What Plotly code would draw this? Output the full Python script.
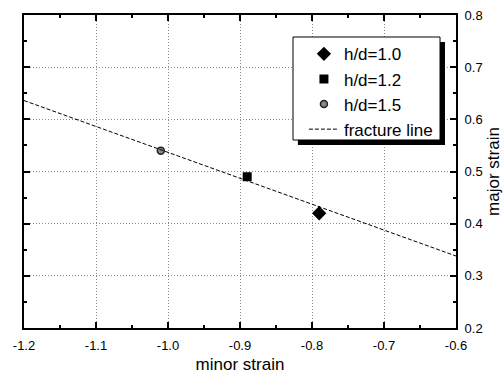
import plotly.graph_objects as go

# data
hd10_x = [-0.79]
hd10_y = [0.42]
hd12_x = [-0.89]
hd12_y = [0.49]
hd15_x = [-1.01]
hd15_y = [0.54]
fracture_x = [-1.2, -0.6]
fracture_y = [0.636, 0.338]

x_ticks = [-1.2, -1.1, -1.0, -0.9, -0.8, -0.7, -0.6]
x_ticklabels = ["-1.2", "-1.1", "-1.0", "-0.9", "-0.8", "-0.7", "-0.6"]
y_ticks = [0.2, 0.3, 0.4, 0.5, 0.6, 0.7, 0.8]
y_ticklabels = ["0.2", "0.3", "0.4", "0.5", "0.6", "0.7", "0.8"]

FONT = "Liberation Sans, Arial, sans-serif"

fig = go.Figure()
fig.add_trace(go.Scatter(x=hd10_x, y=hd10_y, mode="markers", name="h/d=1.0",
                         marker=dict(symbol="diamond", size=11, color="black")))
fig.add_trace(go.Scatter(x=hd12_x, y=hd12_y, mode="markers", name="h/d=1.2",
                         marker=dict(symbol="square", size=9, color="black")))
fig.add_trace(go.Scatter(x=hd15_x, y=hd15_y, mode="markers", name="h/d=1.5",
                         marker=dict(symbol="circle", size=7, color="#888888",
                                     line=dict(color="#222222", width=1.5))))
fig.add_trace(go.Scatter(x=fracture_x, y=fracture_y, mode="lines", name="fracture line",
                         line=dict(color="black", width=1, dash="4px,2px")))

axis_common = dict(
    showline=True, linecolor="black", linewidth=2, mirror="allticks",
    ticks="inside", ticklen=6, tickwidth=1.5, tickcolor="black",
    showgrid=True, gridcolor="#8a8a8a", griddash="1px,2px", gridwidth=1,
    zeroline=False, tickfont=dict(family=FONT, size=13, color="black"),
    title_font=dict(family=FONT, size=17, color="black"),
    ticklabelstandoff=4, automargin=False,
)

fig.update_xaxes(range=[-1.2, -0.6], tickmode="array", tickvals=x_ticks, ticktext=x_ticklabels,
                 minor=dict(dtick=0.05, tick0=-1.2, ticks="inside", ticklen=3, tickcolor="black", showgrid=False),
                 title_text="minor strain", title_standoff=10, **axis_common)
fig.update_yaxes(range=[0.2, 0.8], tickmode="array", tickvals=y_ticks, ticktext=y_ticklabels, side="right",
                 minor=dict(dtick=0.05, tick0=0.2, ticks="inside", ticklen=3, tickcolor="black", showgrid=False),
                 title_text="major strain", title_standoff=6, **axis_common)

# legend box + shadow
fig.add_shape(type="rect", xref="paper", yref="paper", x0=0.634, x1=0.9745, y0=0.5847, y1=0.9137,
              fillcolor="black", line=dict(width=0), layer="above")
fig.add_shape(type="rect", xref="paper", yref="paper", x0=0.6227, x1=0.963, y0=0.6006, y1=0.9297,
              fillcolor="white", line=dict(color="black", width=1), layer="above")

fig.update_layout(
    width=503, height=374,
    margin=dict(l=24, r=47, t=15, b=46),
    paper_bgcolor="white", plot_bgcolor="white",
    font=dict(family=FONT, color="black"),
    showlegend=True,
    legend=dict(x=0.648, y=0.932, xanchor="left", yanchor="top",
                bgcolor="rgba(0,0,0,0)", borderwidth=0,
                font=dict(family=FONT, size=17, color="black"),
                itemwidth=30, tracegroupgap=0),
)

fig.write_html("out.html")
